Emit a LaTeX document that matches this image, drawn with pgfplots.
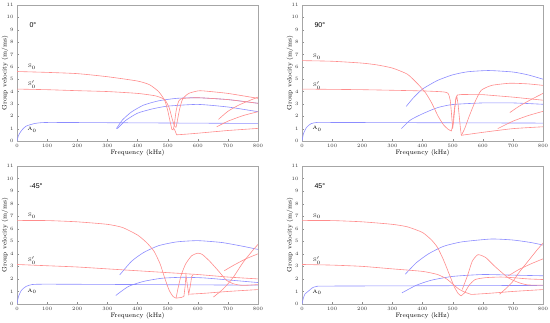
\documentclass[border=0pt]{standalone}
\usepackage{fontspec}
\usepackage{pgfplots}
\pgfplotsset{compat=1.18}
\newfontfamily\ttl{Liberation Sans}
\definecolor{rc}{RGB}{255,140,140}
\definecolor{bc}{RGB}{140,140,255}
\pgfplotsset{
  panel/.style={
    scale only axis, width=241pt,
    xmin=0, xmax=800, ymin=0, ymax=11,
    xtick={0,100,...,800}, ytick={0,1,...,11},
    tick label style={font=\fontsize{4.5}{5}\selectfont, text=black!80},
    label style={font=\fontsize{6.5}{7}\selectfont},
    xlabel={Frequency (kHz)}, ylabel={Group velocity (m/ms)},
    ylabel style={at={(axis description cs:-0.05,0.5)}, anchor=center},
    axis line style={black!35},
    tick style={black!45}, major tick length=2pt, tick align=inside,
    xtick pos=bottom, ytick pos=left,
    every axis plot/.style={line width=0.6pt, smooth, tension=0.35},
    clip=true,
  },
  rl/.style={color=rc, no markers},
  bl/.style={color=bc, no markers},
}
\begin{document}
\begin{tikzpicture}
\useasboundingbox (0,0) rectangle (550pt,322pt);
% ---------------- 0 deg ----------------
\begin{axis}[panel, height=136pt, at={(17pt,181pt)}, anchor=south west,
  xlabel style={at={(axis description cs:0.5,-0.088)}, anchor=center}]
\addplot[bl] coordinates {(0,0) (5,0.45) (15,0.85) (30,1.2) (60,1.42) (100,1.5) (300,1.48) (800,1.42)};
\addplot[bl] coordinates {(330,1.0) (350,1.7) (380,2.35) (420,2.9) (470,3.25) (530,3.45) (600,3.5) (700,3.35) (800,3.05)};
\addplot[bl] coordinates {(333,1.0) (360,1.65) (400,2.25) (450,2.6) (500,2.82) (600,2.96) (700,2.75) (800,2.37)};
\addplot[rl] coordinates {(0,5.62) (100,5.55) (200,5.45) (300,5.2) (400,4.85) (440,4.55) (470,4.0) (490,3.3) (500,2.5) (508,1.6) (514,0.95)};
\addplot[rl] coordinates {(514,0.95) (518,0.9) (522,1.3) (528,2.4) (535,3.1) (545,3.42) (600,3.5) (700,3.35) (800,3.05)};
\addplot[rl] coordinates {(0,4.2) (100,4.15) (200,4.07) (300,4.0) (400,3.85) (460,3.65) (490,3.35) (505,2.7) (515,1.8) (523,1.2) (528,1.1)};
\addplot[rl] coordinates {(528,1.1) (532,1.6) (540,2.6) (550,3.4) (570,3.85) (600,4.05) (620,4.05) (700,3.85) (800,3.45)};
\addplot[rl, sharp plot] coordinates {(522,1.0) (530,0.5) (560,0.55) (600,0.63) (700,0.85) (800,1.02)};
\addplot[rl] coordinates {(669,1.75) (700,2.4) (740,2.95) (800,3.55)};
\addplot[rl] coordinates {(663,1.15) (700,1.6) (750,2.05) (800,2.37)};
\node[font=\fontsize{7}{8}\ttl, anchor=west] at (axis cs:30,9.4) {0°};
\node[font=\fontsize{5}{6}\selectfont] at (axis cs:50,6.0) {S$_0$};
\node[font=\fontsize{5}{6}\selectfont] at (axis cs:50,4.55) {S$_0'$};
\node[font=\fontsize{5}{6}\selectfont] at (axis cs:50,0.92) {A$_0$};
\end{axis}
% ---------------- 90 deg ----------------
\begin{axis}[panel, height=136pt, at={(302pt,181pt)}, anchor=south west,
  xlabel style={at={(axis description cs:0.5,-0.088)}, anchor=center}]
\addplot[bl] coordinates {(0,0) (5,0.6) (15,1.1) (30,1.4) (50,1.5) (100,1.5) (800,1.45)};
\addplot[bl] coordinates {(346,2.8) (370,3.5) (400,4.2) (450,4.9) (500,5.35) (550,5.6) (620,5.7) (700,5.58) (750,5.35) (800,5.0)};
\addplot[bl] coordinates {(330,1.0) (360,1.7) (400,2.2) (450,2.7) (500,2.95) (600,3.08) (700,3.08) (800,2.97)};
\addplot[rl] coordinates {(0,6.5) (100,6.45) (200,6.3) (250,6.15) (300,5.9) (350,5.4) (385,4.6) (410,3.9) (430,3.1) (452,2.0) (470,1.3) (485,0.95) (496,0.8)};
\addplot[rl, sharp plot] coordinates {(496,0.8) (500,1.3) (505,2.4) (510,3.3) (514,3.6) (518,3.0) (522,2.0) (526,1.0) (529,0.46)};
\addplot[rl] coordinates {(529,0.46) (540,1.0) (555,2.0) (575,3.2) (595,4.1) (630,4.5) (690,4.67) (750,4.62) (800,4.5)};
\addplot[rl] coordinates {(0,4.2) (200,4.15) (400,4.05) (470,3.97) (485,3.85) (492,3.3) (497,2.0) (500,1.0)};
\addplot[rl, sharp plot] coordinates {(500,1.0) (503,1.5) (507,2.6) (511,3.5) (516,3.72) (530,3.76) (600,3.75) (700,3.55) (800,3.3)};
\addplot[rl] coordinates {(529,0.46) (600,0.7) (700,1.0) (800,1.15)};
\addplot[rl] coordinates {(690,2.3) (720,2.8) (760,3.35) (800,3.85)};
\addplot[rl] coordinates {(650,1.0) (700,1.6) (750,2.05) (800,2.4)};
\node[font=\fontsize{7}{8}\ttl, anchor=west] at (axis cs:30,9.4) {90°};
\node[font=\fontsize{5}{6}\selectfont] at (axis cs:50,6.8) {S$_0$};
\node[font=\fontsize{5}{6}\selectfont] at (axis cs:50,4.5) {S$_0'$};
\node[font=\fontsize{5}{6}\selectfont] at (axis cs:50,1.0) {A$_0$};
\end{axis}
% ---------------- -45 deg ----------------
\begin{axis}[panel, height=138pt, at={(17pt,18pt)}, anchor=south west,
  xlabel style={at={(axis description cs:0.5,-0.087)}, anchor=center}]
\addplot[bl] coordinates {(0,0) (5,0.6) (15,1.1) (30,1.4) (50,1.55) (100,1.58) (400,1.55) (800,1.5)};
\addplot[bl] coordinates {(341,2.32) (380,3.4) (420,4.1) (470,4.65) (530,4.95) (600,5.05) (680,4.9) (750,4.6) (800,4.35)};
\addplot[bl] coordinates {(328,0.68) (370,1.4) (420,1.8) (480,2.05) (550,2.13) (620,2.08) (700,1.92) (800,1.71)};
\addplot[rl] coordinates {(0,6.65) (100,6.65) (200,6.55) (300,6.35) (350,6.1) (400,5.5) (430,4.9) (455,4.2) (475,3.2) (490,2.1) (505,1.1) (518,0.6) (528,0.47)};
\addplot[rl] coordinates {(528,0.47) (535,1.3) (545,2.3) (560,3.2) (580,3.85) (600,4.05) (615,3.95) (640,3.4) (670,2.6) (695,1.9) (720,1.6) (750,1.48) (800,1.55)};
\addplot[rl] coordinates {(0,3.15) (100,3.05) (200,2.95) (300,2.8) (400,2.65) (500,2.5) (600,2.35) (700,2.15) (800,2.0)};
\addplot[rl, sharp plot] coordinates {(528,0.47) (545,0.52) (554,0.6) (558,1.4) (561,2.3) (565,1.6) (570,0.8) (575,1.4) (580,2.2) (584,2.3)};
\addplot[rl] coordinates {(570,0.78) (620,0.85) (700,1.0) (800,1.15)};
\addplot[rl] coordinates {(652,0.55) (680,1.1) (700,1.6) (720,2.2) (750,3.3) (780,4.2) (800,4.75)};
\addplot[rl] coordinates {(688,2.65) (720,3.1) (760,3.6) (800,4.0)};
\node[font=\fontsize{7}{8}\ttl, anchor=west] at (axis cs:30,9.4) {-45°};
\node[font=\fontsize{5}{6}\selectfont] at (axis cs:50,7.05) {S$_0$};
\node[font=\fontsize{5}{6}\selectfont] at (axis cs:50,3.47) {S$_0'$};
\node[font=\fontsize{5}{6}\selectfont] at (axis cs:50,1.03) {A$_0$};
\end{axis}
% ---------------- 45 deg ----------------
\begin{axis}[panel, height=138pt, at={(302pt,18pt)}, anchor=south west,
  xlabel style={at={(axis description cs:0.5,-0.087)}, anchor=center}]
\addplot[bl] coordinates {(0,0) (5,0.5) (10,0.8) (20,1.0) (35,1.3) (50,1.4) (100,1.43) (800,1.48)};
\addplot[bl] coordinates {(343,2.38) (380,3.3) (420,4.0) (470,4.6) (530,4.95) (628,5.18) (700,5.1) (760,4.9) (800,4.7)};
\addplot[bl] coordinates {(332,0.89) (380,1.5) (430,1.9) (500,2.2) (600,2.35) (700,2.3) (800,2.25)};
\addplot[rl] coordinates {(0,6.65) (100,6.65) (200,6.55) (300,6.35) (350,6.15) (400,5.7) (430,5.1) (450,4.5) (470,3.5) (490,2.3) (505,1.4) (518,0.85) (528,0.65)};
\addplot[rl] coordinates {(528,0.65) (540,0.9) (555,1.5) (575,1.95) (610,2.1) (660,2.15) (700,2.1) (750,2.0) (800,1.95)};
\addplot[rl] coordinates {(0,3.15) (100,3.1) (200,3.0) (300,2.8) (400,2.6) (450,2.35) (480,2.0) (500,1.6) (520,1.2) (540,0.95) (562,0.76)};
\addplot[rl] coordinates {(562,0.76) (620,0.85) (700,1.0) (800,1.15)};
\addplot[rl] coordinates {(532,1.16) (550,2.3) (565,3.4) (584,3.93) (610,3.7) (640,3.0) (684,2.1) (720,1.7) (750,1.52) (800,1.5)};
\addplot[rl] coordinates {(656,0.78) (680,1.3) (700,1.8) (720,2.5) (750,3.4) (780,4.3) (800,4.85)};
\addplot[rl] coordinates {(685,2.25) (720,2.75) (760,3.2) (800,3.6)};
\node[font=\fontsize{7}{8}\ttl, anchor=west] at (axis cs:30,9.4) {45°};
\node[font=\fontsize{5}{6}\selectfont] at (axis cs:50,7.0) {S$_0$};
\node[font=\fontsize{5}{6}\selectfont] at (axis cs:50,3.47) {S$_0'$};
\node[font=\fontsize{5}{6}\selectfont] at (axis cs:50,0.95) {A$_0$};
\end{axis}
\end{tikzpicture}
\end{document}
